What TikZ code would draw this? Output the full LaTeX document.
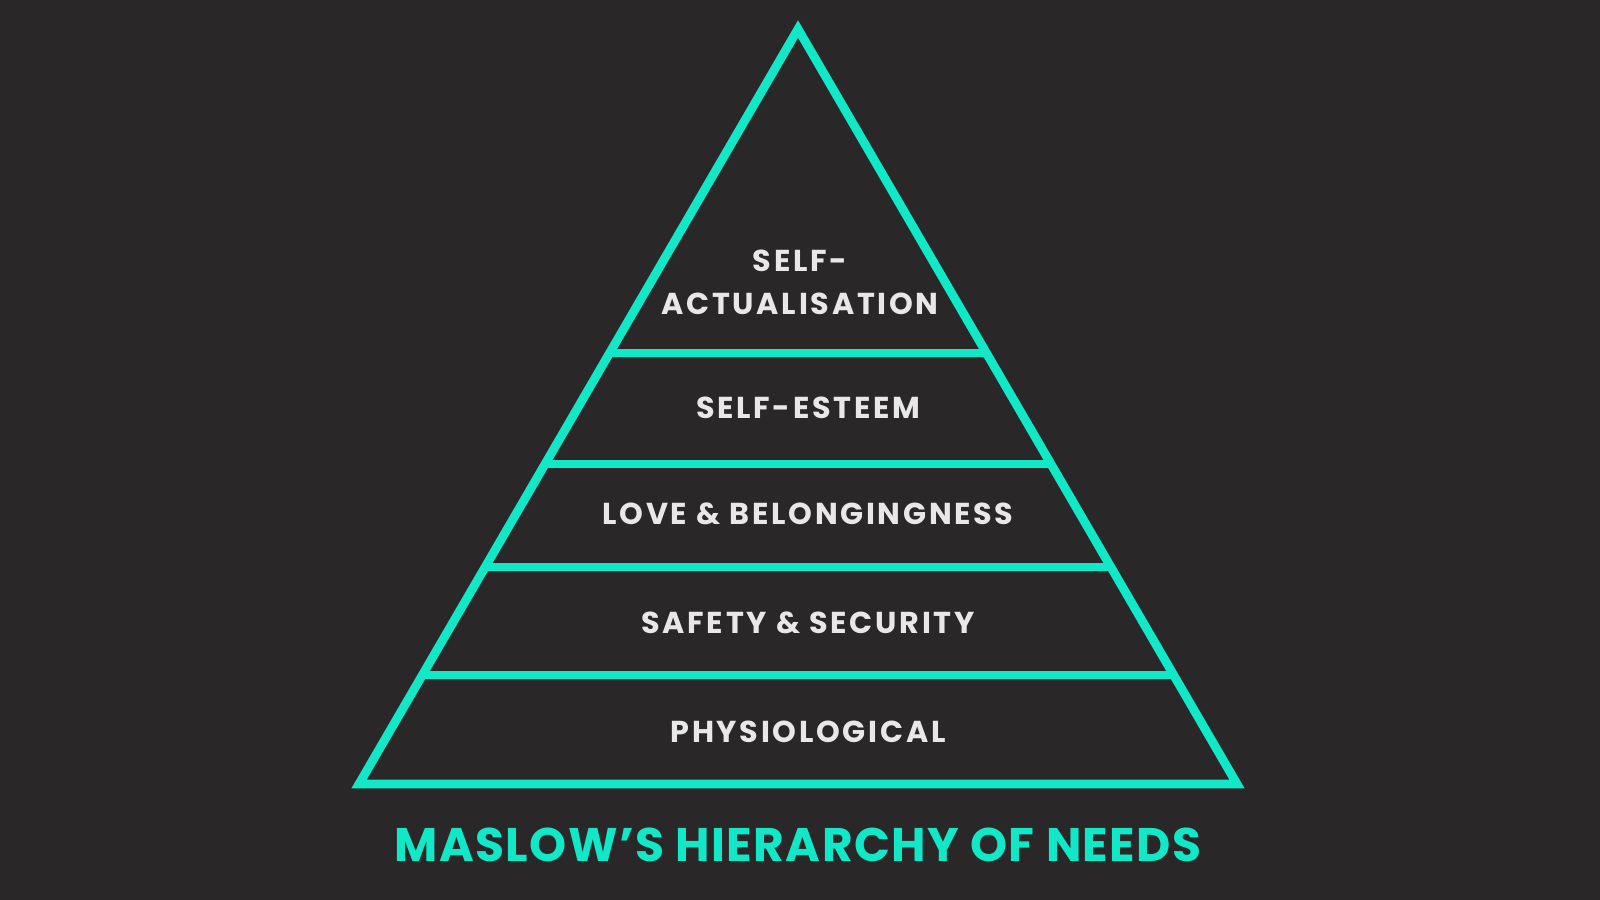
\documentclass[tikz,border=0pt]{standalone}
\usepackage{fontspec}
\setmainfont{Poppins}
\usepackage{tikz}
\usetikzlibrary{calc}
\definecolor{bgdark}{RGB}{42,39,40}
\definecolor{tealline}{RGB}{16,232,200}
\definecolor{lighttext}{RGB}{232,232,232}

\begin{document}
\begin{tikzpicture}[x=0.01cm, y=-0.01cm, font=\bfseries,
    level/.style={text=lighttext, align=center, font=\fontsize{8.6}{12.3}\selectfont\bfseries\addfontfeatures{LetterSpace=9}}]
        \fill[bgdark] (0,0) rectangle (1600,900);
        \useasboundingbox (0,0) rectangle (1600,900);
        % pyramide
        \coordinate (apex) at (798,29);
        \coordinate (bl) at (359,784);
        \coordinate (br) at (1237,784);
        \draw[tealline, line width=2.5pt, line join=miter] (apex) -- (bl) -- (br) -- cycle;
        \foreach \t in {0.4291,0.5762,0.7126,0.8556} {
          \draw[tealline, line width=2.5pt] ($(apex)!\t!(bl)$) -- ($(apex)!\t!(br)$);
        }
        % niveaux
        \node[level] (selfact) at (800,282) {SELF-\\ACTUALISATION};
        \node[level] (esteem) at (808,408) {SELF-ESTEEM};
        \node[level] (love) at (808,514) {LOVE \& BELONGINGNESS};
        \node[level] (safety) at (808,623) {SAFETY \& SECURITY};
        \node[level] (physio) at (808,732) {PHYSIOLOGICAL};
        % titre
        \node[text=tealline, font=\fontsize{13.4}{16}\selectfont\bfseries\addfontfeatures{LetterSpace=3}] (title) at (798,845) {MASLOW’S HIERARCHY OF NEEDS};
      \end{tikzpicture}
\end{document}
